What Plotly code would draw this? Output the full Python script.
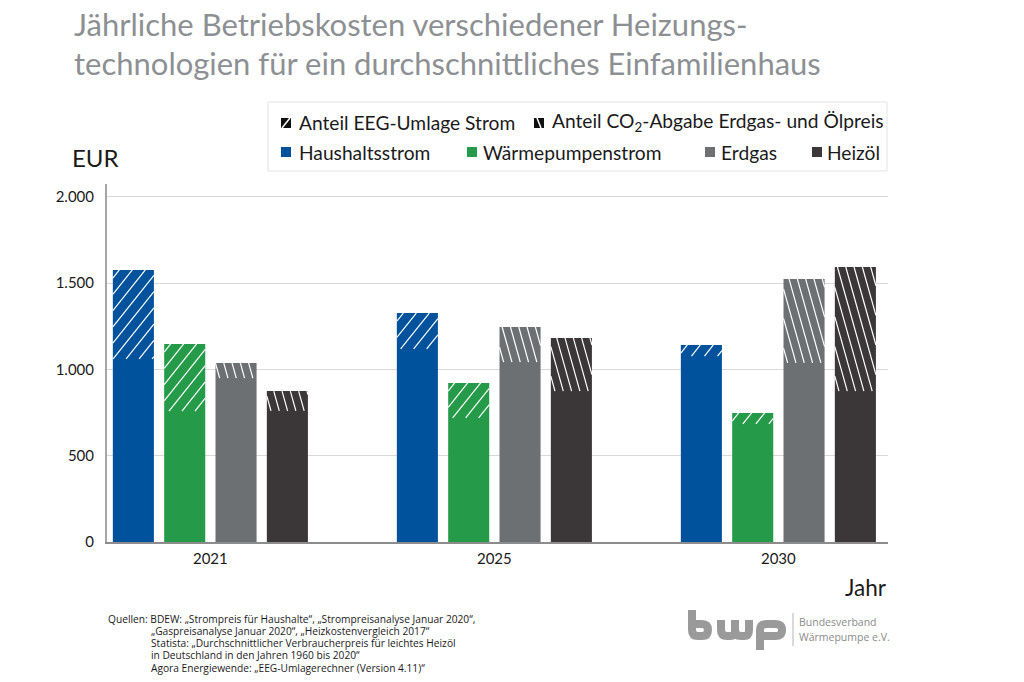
import plotly.graph_objects as go

W, H = 1024, 682
# plot area in page pixels
L, R, T, B = 107, 888, 184, 542
X_RANGE = [-0.364, 2.386]
Y_RANGE = [0, 2075]
BARGAP = 0.277
BARGROUPGAP = 0.2

years = ['2021', '2025', '2030']
technologies = ['Haushaltsstrom', 'Wärmepumpenstrom', 'Erdgas', 'Heizöl']
colors = ['#00529c', '#259a49', '#6d7073', '#3b3638']

# Sockel ohne Umlage/Abgabe
basis_strom = [1061, 1119, 1078]
basis_wp = [759, 719, 684]
basis_gas = [950, 1043, 1038]
basis_oel = [760, 875, 875]

# Anteil EEG-Umlage bzw. CO2-Abgabe obendrauf
anteil_strom = [516, 208, 64]
anteil_wp = [389, 203, 64]
anteil_gas = [88, 203, 487]
anteil_oel = [115, 308, 719]

basis = [basis_strom, basis_wp, basis_gas, basis_oel]
anteil = [anteil_strom, anteil_wp, anteil_gas, anteil_oel]

title_lines = ['Jährliche Betriebskosten verschiedener Heizungs-',
               'technologien für ein durchschnittliches Einfamilienhaus']
sources = ['Quellen: BDEW: „Strompreis für Haushalte“, „Strompreisanalyse Januar 2020“,',
           '„Gaspreisanalyse Januar 2020“, „Heizkostenvergleich 2017“',
           'Statista: „Durchschnittlicher Verbraucherpreis für leichtes Heizöl',
           'in Deutschland in den Jahren 1960 bis 2020“',
           'Agora Energiewende: „EEG-Umlagerechner (Version 4.11)“']


def px(x):
    return (x - L) / (R - L)


def py(y):
    return (B - y) / (B - T)


def text(x, y, s, size, color='#1a1a1a', family='Lato', xanchor='left'):
    fig.add_annotation(xref='paper', yref='paper', x=px(x), y=py(y), text=s, showarrow=False,
                       xanchor=xanchor, yanchor='middle', align='left',
                       font=dict(size=size, color=color, family=family), borderpad=0)


def box(x0, y0, x1, y1, fill, line=None):
    fig.add_shape(type='rect', xref='paper', yref='paper', x0=px(x0), x1=px(x1), y0=py(y0), y1=py(y1),
                  fillcolor=fill, line=dict(width=1 if line else 0, color=line), layer='above')


def stroke(x0, y0, x1, y1, color, width):
    fig.add_shape(type='line', xref='paper', yref='paper', x0=px(x0), x1=px(x1), y0=py(y0), y1=py(y1),
                  line=dict(color=color, width=width), layer='above')


def logo_path(cmds):
    # cmds: letter followed by pixel points, goes into a stroked svg path
    out = []
    for c in cmds:
        out.append(c[0] + ' '.join(f'{px(p[0]):.5f},{py(p[1]):.5f}' for p in c[1:]))
    fig.add_shape(type='path', xref='paper', yref='paper', path=' '.join(out),
                  line=dict(color='#9a9a9a', width=8), layer='above')


def hatch(tech_i, year_i, cot, spacing):
    # plotly patterns only do 45 degrees, so the slanted lines are drawn per bar
    x_per_px = (X_RANGE[1] - X_RANGE[0]) / (R - L)
    y_per_px = (Y_RANGE[1] - Y_RANGE[0]) / (B - T)
    slot = (1 - BARGAP) / len(technologies)
    center = year_i + (tech_i - 1.5) * slot
    half = slot * (1 - BARGROUPGAP) / 2
    left, right = center - half, center + half
    low = basis[tech_i][year_i]
    high = low + anteil[tech_i][year_i]
    height = (high - low) / y_per_px
    width = (right - left) / x_per_px
    # s = where a line meets the top edge, in px from the left side of the bar
    s = min(0, -cot * height) + spacing / 2
    while s < width + max(0, -cot * height):
        t0, t1 = 0.0, 1.0
        dx = cot * height
        if dx != 0:
            a, b = (0 - s) / dx, (width - s) / dx
            t0, t1 = max(t0, min(a, b)), min(t1, max(a, b))
        if t1 > t0:
            fig.add_shape(type='line', xref='x', yref='y',
                          x0=left + (s + dx * t0) * x_per_px, x1=left + (s + dx * t1) * x_per_px,
                          y0=high - t0 * (high - low), y1=high - t1 * (high - low),
                          line=dict(color='white', width=1.2), layer='above')
        s += spacing


fig = go.Figure()

for i, tech in enumerate(technologies):
    fig.add_trace(go.Bar(x=years, y=basis[i], name=tech, offsetgroup=str(i),
                         marker=dict(color=colors[i], line=dict(width=0))))
    fig.add_trace(go.Bar(x=years, y=anteil[i], name=tech + ' Anteil', offsetgroup=str(i),
                         marker=dict(color=colors[i], line=dict(width=0))))

fig.update_layout(
    width=W, height=H,
    margin=dict(l=L, r=W - R, t=T, b=H - B, autoexpand=False),
    paper_bgcolor='white', plot_bgcolor='white',
    barmode='relative', bargap=BARGAP, bargroupgap=BARGROUPGAP,
    showlegend=False,
    font=dict(family='Lato', color='#1a1a1a'),
    xaxis=dict(range=X_RANGE, type='category', showgrid=False, ticks='', showline=True,
               linecolor='#8c8c8c', linewidth=2, tickfont=dict(size=15), ticklabelstandoff=2),
    yaxis=dict(range=Y_RANGE, tickvals=[0, 500, 1000, 1500, 2000],
               ticktext=['0', '500', '1.000', '1.500', '2.000'],
               showgrid=True, gridcolor='#d9d9d9', gridwidth=1, zeroline=False, showline=True,
               linecolor='#a6a6a6', linewidth=2, tickfont=dict(size=15), ticks='', ticklabelstandoff=8),
)

for i in range(len(technologies)):
    for j in range(len(years)):
        if i < 2:
            hatch(i, j, -0.8, 13)
        else:
            hatch(i, j, 0.28, 8.3)

# Titel
for line, y in zip(title_lines, [24, 63]):
    text(73, y, line, 31, color='#8d9093')

text(71, 157, 'EUR', 24)
text(888, 587, 'Jahr', 22.5, xanchor='right')

# Legende
box(268, 102, 887, 171, 'white', '#e3e3e3')
box(281, 118, 291, 128, '#111111')
stroke(282, 128, 290, 118, 'white', 1.5)
text(298, 122, 'Anteil EEG-Umlage Strom', 19.2)
box(534, 118, 544, 128, '#111111')
stroke(537, 118, 541, 128, 'white', 1.5)
text(551, 122, 'Anteil CO<sub>2</sub>-Abgabe Erdgas- und Ölpreis', 19.2)
for x, tx, name, c in zip([281, 467, 705, 812], [298, 482, 720, 826], technologies, colors):
    box(x, 147, x + 10, 157, c)
    text(tx, 152, name, 19.2)

# Quellen
text(107, 619, sources[0], 10.2, family='Open Sans')
for s, y in zip(sources[1:], [631, 643, 655, 668]):
    text(150, y, s, 10.2, family='Open Sans')

# Logo
logo_path([['M', (692, 610)], ['L', (692, 630)], ['Q', (692, 636), (698, 636)], ['L', (702, 636)],
           ['Q', (708, 636), (708, 630)], ['Q', (708, 624), (702, 624)], ['L', (692, 624)]])
logo_path([['M', (721, 620)], ['L', (721, 630)], ['Q', (721, 636), (727, 636)], ['L', (730, 636)],
           ['Q', (735, 636), (735, 630)], ['L', (735, 620)]])
logo_path([['M', (735, 630)], ['Q', (735, 636), (741, 636)], ['L', (744, 636)],
           ['Q', (749, 636), (749, 630)], ['L', (749, 620)]])
logo_path([['M', (760, 650)], ['L', (760, 630)], ['Q', (760, 624), (767, 624)], ['L', (775, 624)],
           ['Q', (782, 624), (782, 630)], ['Q', (782, 636), (775, 636)], ['L', (760, 636)]])
stroke(793, 613, 793, 646, '#b5b5b5', 1)
text(798, 622, 'Bundesverband', 10.5, color='#8a8a8a', family='Open Sans')
text(798, 637, 'Wärmepumpe e.V.', 10.5, color='#8a8a8a', family='Open Sans')

# die Seite hat sonst 8px Rand um den Plot
fig.write_html("out.html", config={'displayModeBar': False},
               post_script="document.body.style.margin = '0';")
